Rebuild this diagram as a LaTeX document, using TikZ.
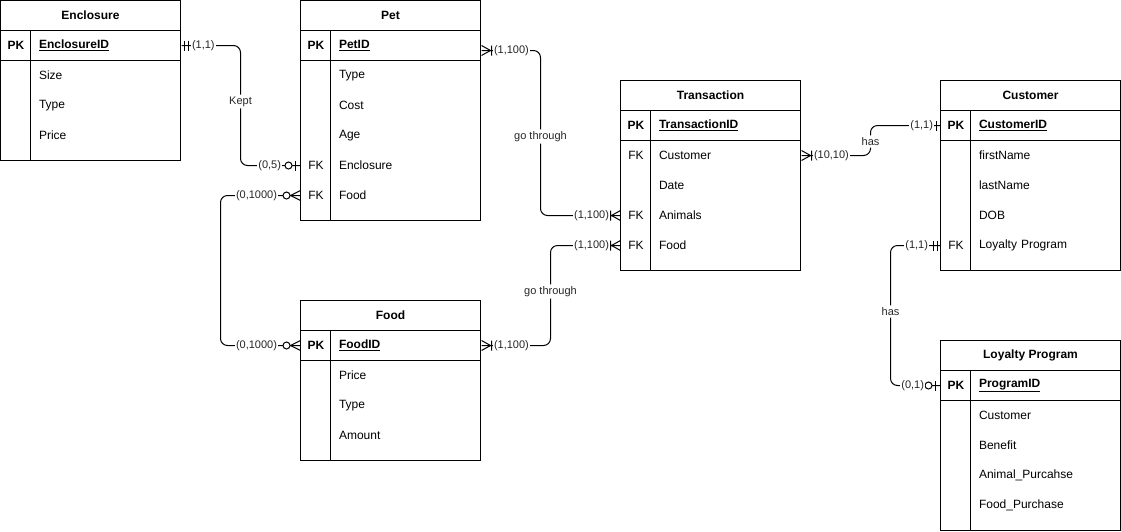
\documentclass[tikz,border=0pt]{standalone}
\usepackage{fontspec}
\setmainfont{Liberation Sans}
\usepackage{tikz}
\usetikzlibrary{positioning}

% end marks of the relationships, drawn outward from the table edge
\tikzset{
	mandone/.pic={\draw (3,-5) -- (3,5) (7,-5) -- (7,5);},
	justone/.pic={\draw (4,-5) -- (4,5);},
	zeroone/.pic={\draw (5,-5) -- (5,5); \draw[fill=white] (12,0) circle (3.5);},
	onemany/.pic={\draw (0,-5) -- (9,0) -- (0,5) (10,-5) -- (10,5);},
	zeromany/.pic={\draw (0,-5) -- (10,0) -- (0,5); \draw[fill=white] (14,0) circle (3.5);},
}

\begin{document}
\begin{tikzpicture}[x=1pt, y=-1pt, line width=1pt,
	every node/.style={font=\fontsize{12}{14}\selectfont, text=black},
	title/.style={minimum width=180pt, minimum height=30pt, inner sep=0pt},
	key/.style={anchor=west, minimum width=30pt, minimum height=30pt, inner sep=0pt},
	field/.style={anchor=west, minimum height=30pt, text width=134pt, inner xsep=8pt, inner ysep=0pt, align=left},
	card/.style={font=\fontsize{11}{13}\selectfont, fill=white, inner sep=1pt, text=black!85},
	lbl/.style={font=\fontsize{11}{13}\selectfont, inner sep=1.5pt, text=black!85},
	conn/.style={rounded corners=7pt}]
	\useasboundingbox (-0.5,-0.5) rectangle (1120.5,530.5);

	% Enclosure
	\draw (0,0) rectangle (180,160) (0,30) -- (180,30) (0,60) -- (180,60) (30,30) -- (30,160);
	\node[title] (enc) at (90,15) {\textbf{Enclosure}};
	\node[key] (encpkkey) at (0,45) {\textbf{PK}};
	\node[field] (encpk) at (30,45) {\textbf{\underline{EnclosureID}}};
	\foreach \y/\t in {75/Size, 105/Type, 135/Price}
		\node[field] at (30,\y) {\t};

	% Pet
	\draw (300,0) rectangle (480,220) (300,30) -- (480,30) (300,60) -- (480,60) (330,30) -- (330,220);
	\node[title] (pet) at (390,15) {\textbf{Pet}};
	\node[key] (petpkkey) at (300,45) {\textbf{PK}};
	\node[field] (petpk) at (330,45) {\textbf{\underline{PetID}}};
	\foreach \y/\t in {75/Type, 105/Cost, 135/Age}
		\node[field] at (330,\y) {\t};
	\node[key] (petfkenc) at (300,165) {FK};
	\node[field] (petenc) at (330,165) {Enclosure};
	\node[key] (petfkfood) at (300,195) {FK};
	\node[field] (petfood) at (330,195) {Food};

	% Transaction
	\draw (620,80) rectangle (800,270) (620,110) -- (800,110) (620,140) -- (800,140) (650,110) -- (650,270);
	\node[title] (trans) at (710,95) {\textbf{Transaction}};
	\node[key] (transpkkey) at (620,125) {\textbf{PK}};
	\node[field] (transpk) at (650,125) {\textbf{\underline{TransactionID}}};
	\node[key] (transfkcust) at (620,155) {FK};
	\node[field] (transcust) at (650,155) {Customer};
	\node[field] (transdate) at (650,185) {Date};
	\node[key] (transfkanim) at (620,215) {FK};
	\node[field] (transanim) at (650,215) {Animals};
	\node[key] (transfkfood) at (620,245) {FK};
	\node[field] (transfood) at (650,245) {Food};

	% Customer
	\draw (940,80) rectangle (1120,270) (940,110) -- (1120,110) (940,140) -- (1120,140) (970,110) -- (970,270);
	\node[title] (cust) at (1030,95) {\textbf{Customer}};
	\node[key] (custpkkey) at (940,125) {\textbf{PK}};
	\node[field] (custpk) at (970,125) {\textbf{\underline{CustomerID}}};
	\foreach \y/\t in {155/firstName, 185/lastName, 215/DOB}
		\node[field] at (970,\y) {\t};
	\node[key] (custfkloy) at (940,245) {FK};
	\node[field] (custloy) at (970,245) {Loyalty Program};

	% Food
	\draw (300,300) rectangle (480,460) (300,330) -- (480,330) (300,360) -- (480,360) (330,330) -- (330,460);
	\node[title] (food) at (390,315) {\textbf{Food}};
	\node[key] (foodpkkey) at (300,345) {\textbf{PK}};
	\node[field] (foodpk) at (330,345) {\textbf{\underline{FoodID}}};
	\foreach \y/\t in {375/Price, 405/Type, 435/Amount}
		\node[field] at (330,\y) {\t};

	% Loyalty Program
	\draw (940,340) rectangle (1120,530) (940,370) -- (1120,370) (940,400) -- (1120,400) (970,370) -- (970,530);
	\node[title] (loyal) at (1030,355) {\textbf{Loyalty Program}};
	\node[key] (loyalpkkey) at (940,385) {\textbf{PK}};
	\node[field] (loyalpk) at (970,385) {\textbf{\underline{ProgramID}}};
	\foreach \y/\t in {415/Customer, 445/Benefit, 475/Animal\_Purcahse, 505/Food\_Purchase}
		\node[field] at (970,\y) {\t};

	% relationships
	\node[lbl] (kept) at (240,101) {Kept};
	\node[lbl] (thru1) at (540,136) {go through};
	\node[lbl] (thru2) at (550,291) {go through};
	\node[lbl] (has1) at (870,141) {has};
	\node[lbl] (has2) at (890,311) {has};
	\coordinate (bend1) at (220,270);
	\coordinate (petpkend) at ([yshift=-5pt]petpk.east);

	\draw[conn] (encpk.east) -| (kept) |- (petfkenc.west);
	\draw[conn] (petpkend) -| (thru1) |- (transfkanim.west);
	\draw[conn] (foodpk.east) -| (thru2) |- (transfkfood.west);
	\draw[conn] (petfkfood.west) -| (bend1) |- (foodpkkey.west);
	\draw[conn] (transcust.east) -| (has1) |- (custpkkey.west);
	\draw[conn] (custfkloy.west) -| (has2) |- (loyalpkkey.west);

	\pic at (encpk.east) {mandone};
	\pic[rotate=180] at (petfkenc.west) {zeroone};
	\pic at (petpkend) {onemany};
	\pic[rotate=180] at (transfkanim.west) {onemany};
	\pic at (foodpk.east) {onemany};
	\pic[rotate=180] at (transfkfood.west) {onemany};
	\pic[rotate=180] at (petfkfood.west) {zeromany};
	\pic[rotate=180] at (foodpkkey.west) {zeromany};
	\pic at (transcust.east) {onemany};
	\pic[rotate=180] at (custpkkey.west) {justone};
	\pic[rotate=180] at (custfkloy.west) {mandone};
	\pic[rotate=180] at (loyalpkkey.west) {zeroone};

	\node[card, right=9pt of encpk.east] {(1,1)};
	\node[card, left=18pt of petfkenc.west] {(0,5)};
	\node[card, right=11pt of petpkend] {(1,100)};
	\node[card, left=10pt of transfkanim.west] {(1,100)};
	\node[card, right=11pt of foodpk.east] {(1,100)};
	\node[card, left=10pt of transfkfood.west] {(1,100)};
	\node[card, left=22pt of petfkfood.west] {(0,1000)};
	\node[card, left=22pt of foodpkkey.west] {(0,1000)};
	\node[card, right=11pt of transcust.east] {(10,10)};
	\node[card, left=6pt of custpkkey.west] {(1,1)};
	\node[card, left=11pt of custfkloy.west] {(1,1)};
	\node[card, left=15pt of loyalpkkey.west] {(0,1)};
\end{tikzpicture}
\end{document}
